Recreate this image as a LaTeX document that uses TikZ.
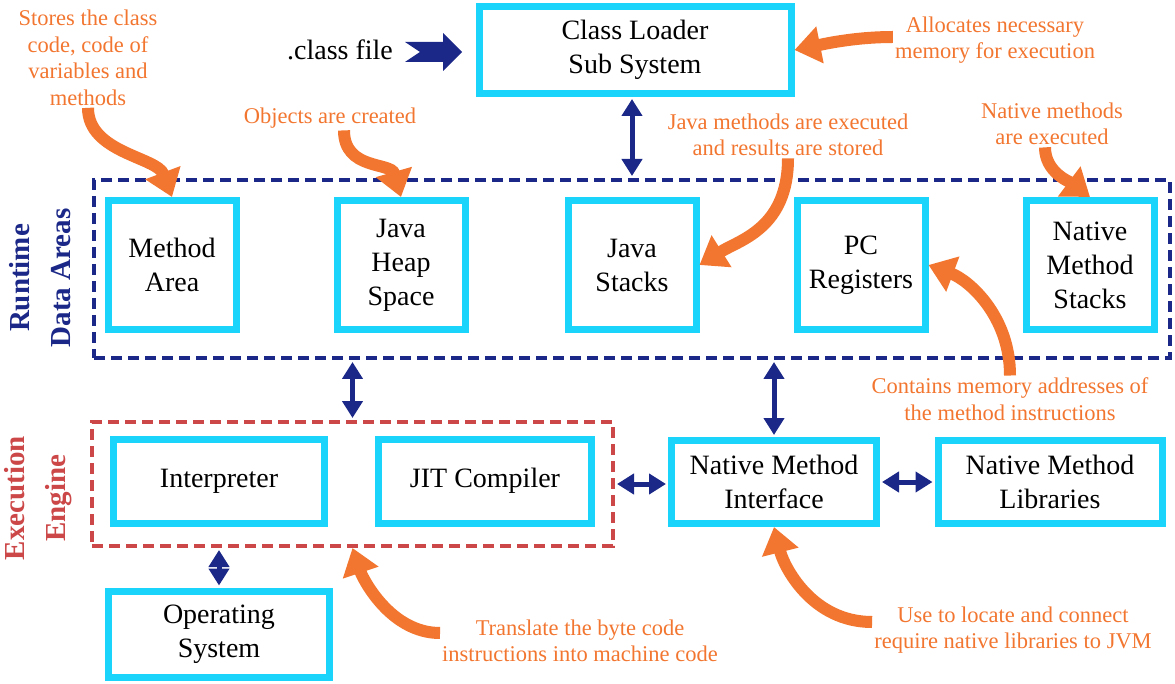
\documentclass[tikz,border=0pt]{standalone}
\usepackage{fontspec}
\setmainfont{Liberation Serif}
\usetikzlibrary{arrows.meta}
\definecolor{boxcyan}{RGB}{26,212,252}
\definecolor{jvmnavy}{RGB}{27,40,135}
\definecolor{noteorange}{RGB}{242,118,48}
\definecolor{engred}{RGB}{204,72,72}
\begin{document}
\begin{tikzpicture}[x=1pt,y=-1pt,
  part/.style={draw=boxcyan, line width=7pt, fill=white, align=center, inner sep=0pt, font=\fontsize{28}{34}\selectfont},
  note/.style={text=noteorange, align=center, inner sep=2pt, font=\fontsize{22.5}{26.5}\selectfont},
  area/.style={draw=#1, line width=4pt, dash pattern=on 11pt off 6pt, inner sep=0pt},
  link/.style={jvmnavy, line width=5pt, {Triangle[length=17pt,width=20pt]}-{Triangle[length=17pt,width=20pt]}, shorten <=2pt, shorten >=2pt},
  hint/.style={noteorange, line width=12pt, -{Triangle[length=26pt,width=36pt]}},
  side/.style={rotate=90, align=center, font=\fontsize{29}{41}\selectfont\bfseries}]
  \useasboundingbox (0,0) rectangle (1175,684);

  % Class loader
  \node[font=\fontsize{28}{34}\selectfont] (cfile) at (340,50) {.class file};
  \fill[jvmnavy] (405,42) -- (443,42) -- (443,33) -- (462,52) -- (443,71) -- (443,62) -- (405,62) -- (420,52) -- cycle;
  \node[part, minimum width=312pt, minimum height=87pt] (cloader) at (635,50) {Class Loader\\Sub System};

  % Runtime data areas
  \node[area=jvmnavy, minimum width=1076pt, minimum height=178pt] (rda) at (632,269) {};
  \node[side, text=jvmnavy] (rdalabel) at (40,278) {Runtime\\Data Areas};
  \node[part, minimum width=128pt, minimum height=129pt] (marea) at (172,265) {Method\\Area};
  \node[part, minimum width=128pt, minimum height=129pt] (jheap) at (401,265) {Java\\Heap\\Space};
  \node[part, minimum width=128pt, minimum height=129pt] (jstack) at (632,265) {Java\\Stacks};
  \node[part, minimum width=128pt, minimum height=129pt] (pcreg) at (861,265) {PC\\Registers};
  \node[part, minimum width=128pt, minimum height=129pt] (nmstack) at (1090,265) {Native\\Method\\Stacks};

  % Execution engine
  \node[area=engred, minimum width=521pt, minimum height=124pt] (exe) at (352.5,484) {};
  \node[side, text=engred] (exelabel) at (38,498) {Execution\\Engine};
  \node[part, minimum width=211pt, minimum height=84pt] (interp) at (219,481) {Interpreter};
  \node[part, minimum width=213pt, minimum height=84pt] (jit) at (485,481) {JIT Compiler};

  % Native side and OS
  \node[part, minimum width=205pt, minimum height=83pt] (nmi) at (774,482) {Native Method\\Interface};
  \node[part, minimum width=224pt, minimum height=83pt] (nml) at (1050,482) {Native Method\\Libraries};
  \node[part, minimum width=221pt, minimum height=86pt] (os) at (219,634) {Operating\\System};

  % Links
  \draw[link] ([xshift=-3pt]cloader.south) -- ([xshift=-3pt]cloader.south |- rda.north);
  \draw[link] (exe.north |- rda.south) -- (exe.north);
  \draw[link] (nmi.north |- rda.south) -- (nmi.north);
  \draw[link] (interp.south |- exe.south) -- (os.north);
  \draw[link] (exe.east) -- (exe.east -| nmi.west);
  \draw[link] (nmi.east) -- (nml.west);

  % Notes
  \node[note] (stores) at (88,58) {Stores the class\\code, code of\\variables and\\methods};
  \node[note] (objects) at (330,118) {Objects are created};
  \node[note] (alloc) at (995,40) {Allocates necessary\\memory for execution};
  \node[note] (javam) at (788,135) {Java methods are executed\\and results are stored};
  \node[note] (nativem) at (1052,124) {Native methods\\are executed};
  \node[note] (contains) at (1010,399) {Contains memory addresses of\\the method instructions};
  \node[note] (translate) at (580,641) {Translate the byte code\\instructions into machine code};
  \node[note] (uselocate) at (1013,630) {Use to locate and connect\\require native libraries to JVM};

  % Note arrows
  \draw[hint] (stores.south) .. controls +(0,45) and +(-15,-40) .. (marea.north);
  \draw[hint] ([xshift=14pt]objects.south) .. controls +(0,40) and +(-10,-35) .. (jheap.north);
  \draw[hint] ([yshift=3pt]alloc.west) .. controls +(-40,0) and +(25,-5) .. (cloader.east);
  \draw[hint] (javam.south) .. controls +(0,70) and +(40,-25) .. (jstack.east);
  \draw[hint] ([xshift=-7pt]nativem.south) .. controls +(0,25) and +(-20,-15) .. (nmstack.north);
  \draw[hint] (contains.north) .. controls +(0,-60) and +(40,15) .. (pcreg.east);
  \draw[hint] ([yshift=8pt]translate.west) .. controls +(-50,0) and +(10,30) .. (exe.south);
  \draw[hint] ([yshift=8pt]uselocate.west) .. controls +(-60,0) and +(10,40) .. (nmi.south);
\end{tikzpicture}
\end{document}
